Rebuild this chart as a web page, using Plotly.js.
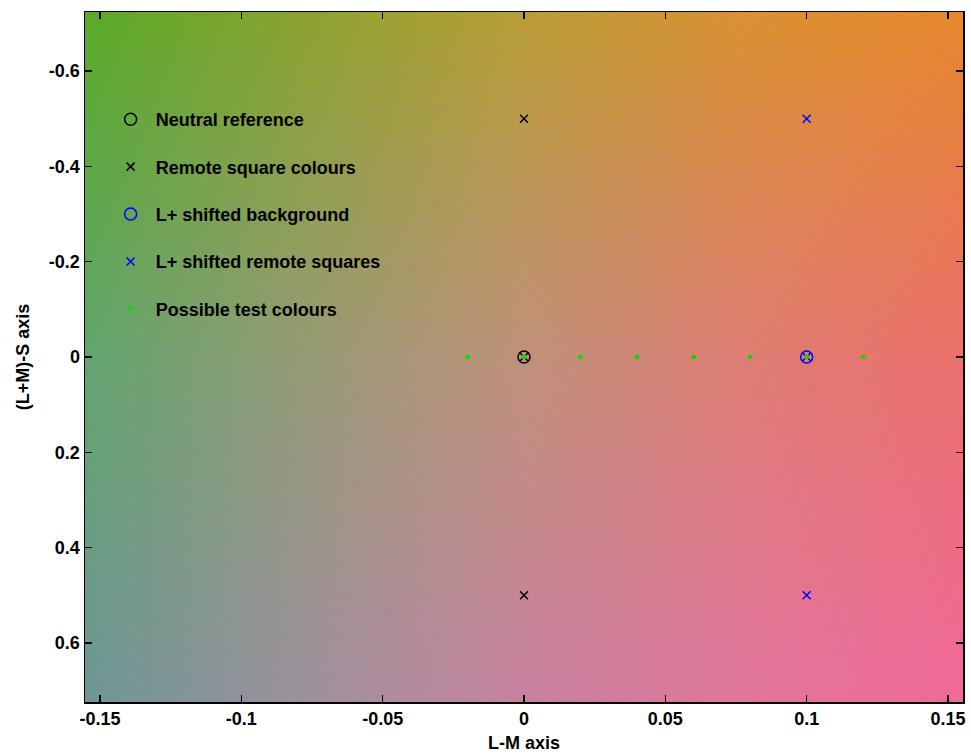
<!DOCTYPE html>
<html>
<head>
<meta charset="utf-8">
<script src="https://cdn.plot.ly/plotly-3.0.1.min.js"></script>
<style>html,body{margin:0;padding:0;background:#fff;}#chart{width:971px;height:754px;}</style>
</head>
<body>
<div id="chart"></div>
<script>
// ---- data ----
var neutralX = [0];
var neutralY = [0];
var remoteX = [0, 0, 0];
var remoteY = [-0.5, 0, 0.5];
var shiftedBgX = [0.1];
var shiftedBgY = [0];
var shiftedRemoteX = [0.1, 0.1, 0.1];
var shiftedRemoteY = [-0.5, 0, 0.5];
var testX = [-0.02, 0, 0.02, 0.04, 0.06, 0.08, 0.1, 0.12];
var testY = [0, 0, 0, 0, 0, 0, 0, 0];

var xTickVals = [-0.15, -0.1, -0.05, 0, 0.05, 0.1, 0.15];
var xTickText = ['-0.15', '-0.1', '-0.05', '0', '0.05', '0.1', '0.15'];
var yTickVals = [-0.6, -0.4, -0.2, 0, 0.2, 0.4, 0.6];
var yTickText = ['-0.6', '-0.4', '-0.2', '0', '0.2', '0.4', '0.6'];

var xRange = [-0.1553, 0.1553];
var yRange = [0.7238, -0.7238];

// background colour grid (rows: top, middle, bottom; columns: left -> right)
var bgTop = [[90,170,40],[140,163,48],[185,157,55],[218,145,50],[230,135,45]];
var bgMid = [[98,165,110],[150,155,118],[192,145,122],[222,125,115],[235,113,108]];
var bgBot = [[110,150,150],[158,145,158],[200,130,160],[225,118,158],[240,105,155]];

function makeBackground() {
  var rows = [bgTop, bgMid, bgBot];
  var W = 220, H = 172;
  var c = document.createElement('canvas');
  c.width = W; c.height = H;
  var ctx = c.getContext('2d');
  var img = ctx.createImageData(W, H);
  var nc = bgTop.length - 1, nr = rows.length - 1;
  for (var j = 0; j < H; j++) {
    var v = j / (H - 1) * nr;
    var r0 = Math.min(Math.floor(v), nr - 1), fv = v - r0;
    for (var i = 0; i < W; i++) {
      var u = i / (W - 1) * nc;
      var c0 = Math.min(Math.floor(u), nc - 1), fu = u - c0;
      for (var k = 0; k < 3; k++) {
        var a = rows[r0][c0][k] * (1 - fu) + rows[r0][c0 + 1][k] * fu;
        var b = rows[r0 + 1][c0][k] * (1 - fu) + rows[r0 + 1][c0 + 1][k] * fu;
        img.data[(j * W + i) * 4 + k] = Math.round(a * (1 - fv) + b * fv);
      }
      img.data[(j * W + i) * 4 + 3] = 255;
    }
  }
  ctx.putImageData(img, 0, 0);
  return c.toDataURL('image/png');
}

var FONT = 'Liberation Sans Narrow, Arial Narrow, Liberation Sans, Arial, sans-serif';

var traces = [
  {x: neutralX, y: neutralY, type: 'scatter', mode: 'markers', name: 'Neutral reference', legendgroup: 'a',
   marker: {symbol: 'circle-open', size: 12, color: '#000000', line: {width: 1.5}}},
  {x: remoteX, y: remoteY, type: 'scatter', mode: 'markers', name: 'Remote square colours', legendgroup: 'b',
   marker: {symbol: 'x-thin-open', size: 8, color: '#000000', line: {width: 1.5, color: '#000000'}}},
  {x: shiftedBgX, y: shiftedBgY, type: 'scatter', mode: 'markers', name: 'L+ shifted background', legendgroup: 'c',
   marker: {symbol: 'circle-open', size: 12, color: '#0000ff', line: {width: 1.5}}},
  {x: shiftedRemoteX, y: shiftedRemoteY, type: 'scatter', mode: 'markers', name: 'L+ shifted remote squares', legendgroup: 'd',
   marker: {symbol: 'x-thin-open', size: 8, color: '#0000ff', line: {width: 1.5, color: '#0000ff'}}},
  {x: testX, y: testY, type: 'scatter', mode: 'markers', name: 'Possible test colours', legendgroup: 'e',
   marker: {symbol: 'square', size: 4, color: '#00e000', line: {width: 0}}}
];

var axisCommon = {
  showgrid: false, zeroline: false, showline: true, mirror: 'allticks',
  linecolor: '#000000', linewidth: 1.5,
  ticks: 'inside', ticklen: 7, tickwidth: 1.2, tickcolor: '#000000',
  tickfont: {family: FONT, size: 18, color: '#000000', weight: 'bold'}
};

var layout = {
  width: 971, height: 754,
  margin: {l: 85, r: 8, t: 12, b: 52},
  paper_bgcolor: '#ffffff',
  plot_bgcolor: '#ffffff',
  showlegend: true,
  legend: {x: 0.0235, y: 0.871, xanchor: 'left', yanchor: 'top', bgcolor: 'rgba(0,0,0,0)', borderwidth: 0,
           itemwidth: 40, tracegroupgap: 21, font: {family: FONT, size: 18, color: '#000000', weight: 'bold'}},
  xaxis: Object.assign({}, axisCommon, {
    range: xRange, tickmode: 'array', tickvals: xTickVals, ticktext: xTickText,
    title: {text: 'L-M axis', standoff: 8, font: {family: FONT, size: 18, color: '#000000', weight: 'bold'}}
  }),
  yaxis: Object.assign({}, axisCommon, {
    range: yRange, tickmode: 'array', tickvals: yTickVals, ticktext: yTickText,
    title: {text: '(L+M)-S axis', standoff: 14, font: {family: FONT, size: 18, color: '#000000', weight: 'bold'}}
  }),
  images: [{source: makeBackground(), xref: 'paper', yref: 'paper', x: 0, y: 1, sizex: 1, sizey: 1,
            xanchor: 'left', yanchor: 'top', sizing: 'stretch', layer: 'below'}]
};

Plotly.newPlot('chart', traces, layout, {displayModeBar: false, staticPlot: true});
</script>
</body>
</html>
